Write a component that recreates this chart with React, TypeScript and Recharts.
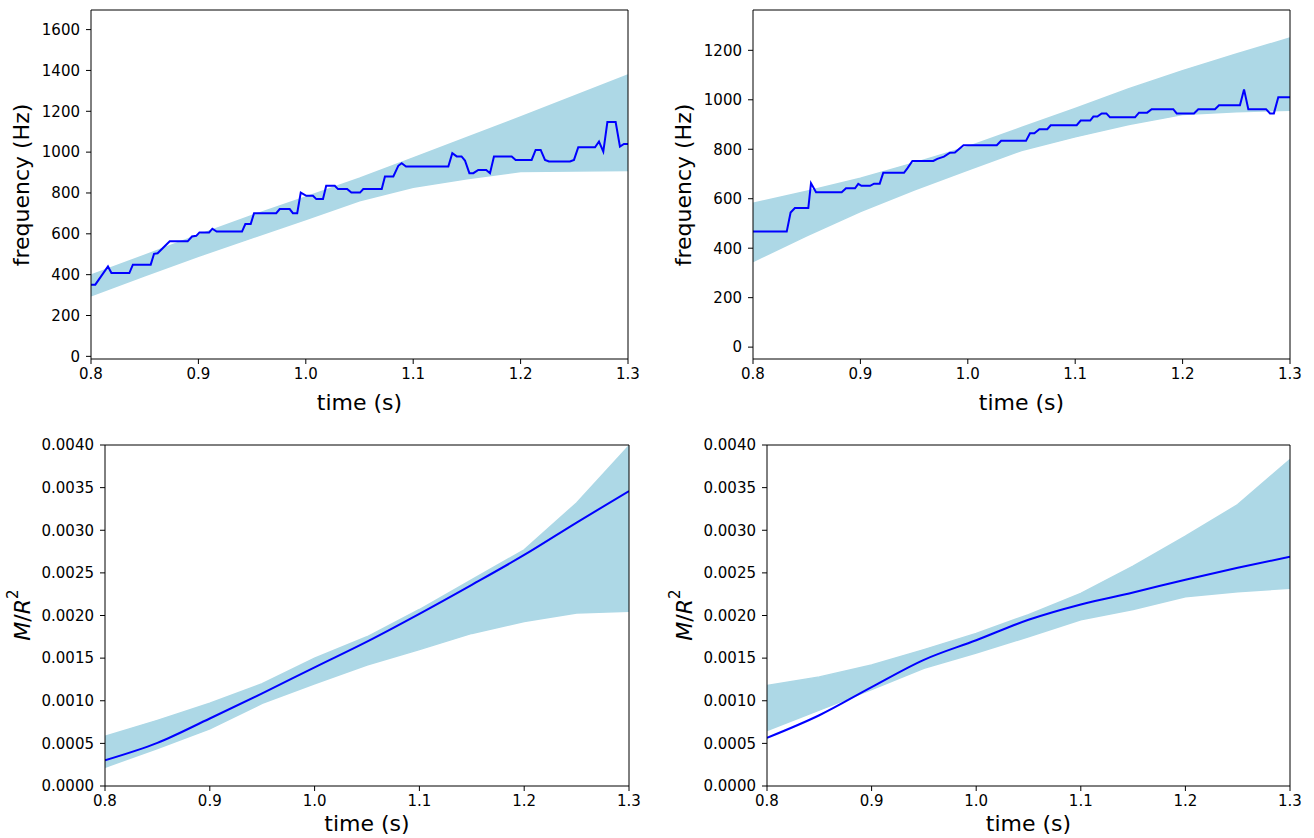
import React from "react";
import { ComposedChart, Line, Area, XAxis, YAxis, ReferenceLine } from "recharts";

const FONT = "DejaVu Sans, sans-serif";
const BAND = "#ADD8E6";
const DARK = "#0000FF";

const timeTicks = [0.8, 0.9, 1.0, 1.1, 1.2, 1.3];
const freqTicksA = [0, 200, 400, 600, 800, 1000, 1200, 1400, 1600];
const freqTicksB = [0, 200, 400, 600, 800, 1000, 1200];
const compTicks = [0, 0.0005, 0.001, 0.0015, 0.002, 0.0025, 0.003, 0.0035, 0.004];

// band edges (envelope of the sampled tracks)
const bandT = [0.8, 0.85, 0.9, 0.95, 1.0, 1.05, 1.1, 1.15, 1.2, 1.25, 1.3];
const freqA_hi = [398, 495, 594, 690, 780, 872, 972, 1072, 1172, 1275, 1378];
const freqA_lo = [297, 395, 490, 580, 670, 762, 828, 870, 905, 908, 910];
const freqB_hi = [582, 630, 683, 745, 810, 888, 965, 1045, 1118, 1185, 1250];
const freqB_lo = [346, 450, 548, 635, 716, 795, 850, 900, 940, 952, 958];
const compA_hi = [0.000584, 0.00077, 0.00097, 0.0012, 0.0015, 0.00175, 0.00207, 0.00242, 0.00277, 0.00332, 0.00399];
const compA_lo = [0.00022, 0.00044, 0.00067, 0.00097, 0.0012, 0.00142, 0.0016, 0.00179, 0.00193, 0.00203, 0.00205];
const compB_hi = [0.00118, 0.00128, 0.00142, 0.0016, 0.00179, 0.00201, 0.00226, 0.00258, 0.00293, 0.0033, 0.00383];
const compB_lo = [0.00065, 0.00089, 0.00113, 0.00138, 0.00156, 0.00175, 0.00195, 0.00207, 0.00222, 0.00228, 0.00232];

// measured tracks
const freqA_t = [0.8, 0.804, 0.8158, 0.819, 0.8357, 0.839, 0.8556, 0.8587, 0.862, 0.8733, 0.89, 0.894, 0.898, 0.901, 0.91, 0.913, 0.917, 0.9406, 0.9437, 0.9487, 0.9518, 0.9725, 0.9757, 0.985, 0.988, 0.992, 0.9953, 1.0005, 1.0067, 1.0098, 1.016, 1.019, 1.027, 1.03, 1.0385, 1.0424, 1.0505, 1.0535, 1.0707, 1.0737, 1.0815, 1.0861, 1.0893, 1.0933, 1.1327, 1.1364, 1.1405, 1.145, 1.1482, 1.1523, 1.156, 1.1606, 1.168, 1.1715, 1.1752, 1.1917, 1.1954, 1.2103, 1.214, 1.2187, 1.2227, 1.2264, 1.246, 1.2497, 1.2537, 1.2693, 1.273, 1.277, 1.2808, 1.2885, 1.2925, 1.2962, 1.3];
const freqA_v = [351, 351, 440, 408, 408, 449, 449, 502, 505, 563, 563, 587, 590, 607, 607, 625, 611, 611, 648, 648, 701, 701, 721, 721, 701, 701, 802, 786, 786, 770, 770, 835, 835, 819, 819, 802, 802, 819, 819, 881, 881, 933, 946, 930, 930, 995, 979, 979, 959, 897, 897, 913, 913, 897, 979, 979, 962, 962, 1011, 1011, 962, 954, 954, 962, 1024, 1024, 1052, 1003, 1147, 1147, 1027, 1040, 1040];
const freqB_t = [0.8, 0.8314, 0.835, 0.839, 0.8515, 0.854, 0.8587, 0.8826, 0.8866, 0.895, 0.898, 0.901, 0.909, 0.9127, 0.918, 0.9213, 0.9406, 0.9437, 0.9484, 0.9679, 0.9716, 0.9778, 0.9834, 0.988, 0.996, 1.027, 1.031, 1.0542, 1.0579, 1.062, 1.0666, 1.074, 1.0772, 1.1014, 1.1051, 1.114, 1.1169, 1.1206, 1.1247, 1.129, 1.1324, 1.1557, 1.1594, 1.167, 1.1712, 1.1913, 1.1945, 1.2106, 1.2146, 1.2302, 1.2339, 1.2534, 1.2572, 1.2612, 1.2777, 1.2814, 1.285, 1.2891, 1.3];
const freqB_v = [467, 467, 544, 562, 562, 663, 626, 626, 642, 642, 660, 652, 652, 661, 661, 705, 705, 723, 753, 753, 761, 770, 786, 787, 816, 816, 834, 834, 865, 865, 881, 881, 897, 897, 916, 916, 932, 932, 945, 945, 929, 929, 948, 948, 962, 962, 945, 945, 962, 962, 978, 978, 1042, 962, 962, 945, 945, 1010, 1010];
const compT = [0.8, 0.85, 0.9, 0.95, 1.0, 1.05, 1.1, 1.15, 1.2, 1.25, 1.3];
const compA_v = [0.000302, 0.000506, 0.000792, 0.001086, 0.001392, 0.001694, 0.00202, 0.00236, 0.00271, 0.00309, 0.00346];
const compB_v = [0.000565, 0.00083, 0.00116, 0.00148, 0.00171, 0.00195, 0.00213, 0.00227, 0.00242, 0.00256, 0.00269];

const bandRows = (lo: number[], hi: number[]) => bandT.map((t, i) => ({ t, range: [lo[i], hi[i]] }));
const lineRows = (ts: number[], vs: number[]) => ts.map((t, i) => ({ t, v: vs[i] }));

type PanelProps = {
  left: number;
  top: number;
  width: number;
  height: number;
  yWidth: number;
  mTop: number;
  mRight: number;
  xHeight: number;
  yDomain: [number, number];
  yTicks: number[];
  yFmt: (v: number) => string;
  band: any[];
  line: any[];
  smooth?: boolean;
  yLabel: React.ReactNode;
  yLab: [number, number];
  xLab: [number, number];
};

function Panel(p: PanelProps) {
  const tickStyle = { fill: "#000", fontSize: 15, fontFamily: FONT };
  return (
    <div style={{ position: "absolute", left: p.left, top: p.top }}>
      <ComposedChart
        width={p.width}
        height={p.height}
        margin={{ top: p.mTop, right: p.mRight, bottom: 0, left: 0 }}
      >
        <XAxis
          type="number"
          dataKey="t"
          domain={[0.8, 1.3]}
          ticks={timeTicks}
          allowDataOverflow
          height={p.xHeight}
          tick={tickStyle}
          tickFormatter={(v) => Number(v).toFixed(1)}
          tickSize={5}
          tickMargin={4}
          stroke="#000"
          interval={0}
          label={{
            content: () => (
              <text x={p.xLab[0]} y={p.xLab[1]} textAnchor="middle" fontSize={22} fontFamily={FONT} fill="#000">
                time (s)
              </text>
            ),
          }}
        />
        <YAxis
          type="number"
          domain={p.yDomain}
          ticks={p.yTicks}
          allowDataOverflow
          width={p.yWidth}
          tick={tickStyle}
          tickFormatter={p.yFmt}
          tickSize={5}
          tickMargin={6}
          stroke="#000"
          interval={0}
          label={{
            content: () => (
              <text
                x={p.yLab[0]}
                y={p.yLab[1]}
                transform={`rotate(-90 ${p.yLab[0]} ${p.yLab[1]})`}
                textAnchor="middle"
                dominantBaseline="central"
                fontSize={22}
                fontFamily={FONT}
                fill="#000"
              >
                {p.yLabel}
              </text>
            ),
          }}
        />
        <Area
          data={p.band}
          dataKey="range"
          type="linear"
          stroke={BAND}
          strokeWidth={1.5}
          fill={BAND}
          fillOpacity={1}
          isAnimationActive={false}
          dot={false}
          activeDot={false}
        />
        <Line
          data={p.line}
          dataKey="v"
          type={p.smooth ? "monotone" : "linear"}
          stroke={DARK}
          strokeWidth={2}
          dot={false}
          activeDot={false}
          isAnimationActive={false}
        />
        <ReferenceLine y={p.yDomain[1]} stroke="#000" strokeWidth={1} />
        <ReferenceLine x={1.3} stroke="#000" strokeWidth={1} />
      </ComposedChart>
    </div>
  );
}

const mr2 = (
  <>
    <tspan fontStyle="italic">M</tspan>
    <tspan>/</tspan>
    <tspan fontStyle="italic">R</tspan>
    <tspan dy={-9} fontSize={15}>2</tspan>
  </>
);

export default function App() {
  const freqFmt = (v: number) => String(v);
  const compFmt = (v: number) => Number(v).toFixed(4);
  return (
    <div style={{ position: "absolute", left: 0, top: 0, width: 1314, height: 838, background: "#fff" }}>
      <Panel
        left={0}
        top={0}
        width={650}
        height={420}
        yWidth={91}
        mTop={10}
        mRight={22}
        xHeight={61}
        yDomain={[-13, 1696]}
        yTicks={freqTicksA}
        yFmt={freqFmt}
        band={bandRows(freqA_lo, freqA_hi)}
        line={lineRows(freqA_t, freqA_v)}
        yLabel="frequency (Hz)"
        yLab={[21, 185]}
        xLab={[359.5, 410]}
      />
      <Panel
        left={660}
        top={0}
        width={654}
        height={420}
        yWidth={93}
        mTop={10}
        mRight={24}
        xHeight={61}
        yDomain={[-48, 1363]}
        yTicks={freqTicksB}
        yFmt={freqFmt}
        band={bandRows(freqB_lo, freqB_hi)}
        line={lineRows(freqB_t, freqB_v)}
        yLabel="frequency (Hz)"
        yLab={[23, 185]}
        xLab={[361.5, 410]}
      />
      <Panel
        left={0}
        top={420}
        width={650}
        height={418}
        yWidth={105}
        mTop={25}
        mRight={21}
        xHeight={52}
        yDomain={[0, 0.004]}
        yTicks={compTicks}
        yFmt={compFmt}
        band={bandRows(compA_lo, compA_hi)}
        line={lineRows(compT, compA_v)}
        smooth
        yLabel={mr2}
        yLab={[22, 195]}
        xLab={[367, 411]}
      />
      <Panel
        left={660}
        top={420}
        width={654}
        height={418}
        yWidth={107}
        mTop={25}
        mRight={24}
        xHeight={52}
        yDomain={[0, 0.004]}
        yTicks={compTicks}
        yFmt={compFmt}
        band={bandRows(compB_lo, compB_hi)}
        line={lineRows(compT, compB_v)}
        smooth
        yLabel={mr2}
        yLab={[24, 195]}
        xLab={[368.5, 411]}
      />
    </div>
  );
}
